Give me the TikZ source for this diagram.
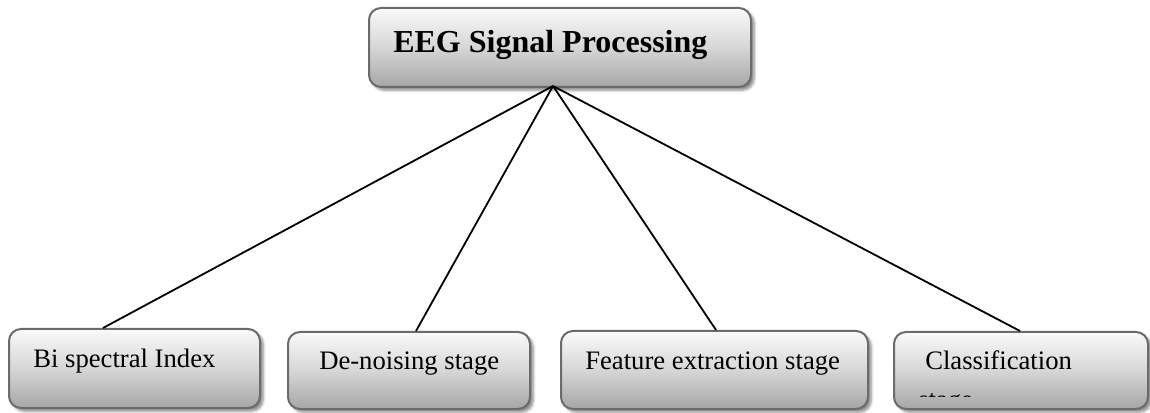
\documentclass[tikz,border=0pt]{standalone}
\usepackage{fontspec}
\setmainfont{Liberation Serif}
\usetikzlibrary{shadows.blur}
\begin{document}
\begin{tikzpicture}[x=0.75pt,y=-0.75pt,
  card/.style={draw=black!58, line width=1.5pt, rounded corners=9pt,
    top color=gray!4, bottom color=gray!70, middle color=gray!32,
    anchor=north west, inner sep=0pt,
    blur shadow={shadow xshift=2.5pt, shadow yshift=-2.5pt, shadow blur steps=6, shadow opacity=45}},
  lbl/.style={anchor=base west, inner sep=0pt, font=\fontsize{20}{24}\selectfont},
  toplbl/.style={anchor=base west, inner sep=0pt, font=\fontsize{24}{28}\selectfont\bfseries},
  link/.style={line width=1.35pt, black}]
\useasboundingbox (0,0) rectangle (1150,413);
% top box
\node[card, minimum width=382*0.75pt, minimum height=79*0.75pt] (top) at (368,7) {};
\node[toplbl] (toptxt) at (393,53) {EEG Signal Processing};
% bottom boxes
\node[card, minimum width=251*0.75pt, minimum height=79*0.75pt] (b1) at (8,328) {};
\node[card, minimum width=242*0.75pt, minimum height=77*0.75pt] (b2) at (287,331) {};
\node[card, minimum width=307*0.75pt, minimum height=78*0.75pt] (b3) at (560,330) {};
\node[card, minimum width=254*0.75pt, minimum height=77*0.75pt] (b4) at (893,331) {};
\node[lbl] (t1) at (33,368) {Bi spectral Index};
\node[lbl] (t2) at (319,370) {De-noising stage};
\node[lbl] (t3) at (585,370) {Feature extraction stage};
\node[lbl] (t4) at (925,370) {Classification};
\begin{scope}
  \clip (900,380) rectangle (1100,396);
  \node[lbl] (t4b) at (918,408) {stage};
\end{scope}
% connectors
\coordinate (apex) at (553,86);
\coordinate (e1) at (103,328);
\coordinate (e2) at (416,331);
\coordinate (e3) at (716,330);
\coordinate (e4) at (1020,331);
\draw[link] (apex) -- (e1);
\draw[link] (apex) -- (e2);
\draw[link] (apex) -- (e3);
\draw[link] (apex) -- (e4);
\end{tikzpicture}
\end{document}
